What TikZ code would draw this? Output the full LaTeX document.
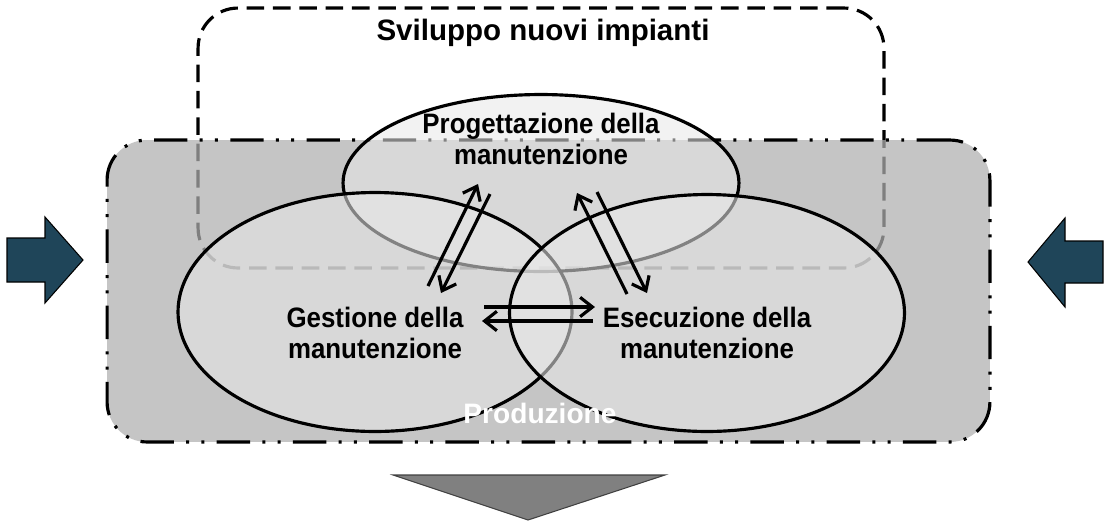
\documentclass[tikz,border=0pt]{standalone}
\usepackage{fontspec}
\setsansfont{Liberation Sans}
\newfontfamily\narrowsf[FakeStretch=0.92]{Liberation Sans}
\usetikzlibrary{arrows.meta,shapes.geometric}

\definecolor{boxgray}{RGB}{175,175,175}
\definecolor{lensgray}{RGB}{232,232,232}
\definecolor{pushblue}{RGB}{31,69,89}
\definecolor{outgray}{RGB}{128,128,128}

\begin{document}
\begin{tikzpicture}[x=0.02cm,y=-0.02cm,>={Straight Barb[length=7pt,width=11pt]},
  line width=1.8pt,
  area box/.style={rectangle,rounded corners=0.8cm,inner sep=0pt},
  lens/.style={ellipse,draw,fill=lensgray,fill opacity=0.56,inner sep=0pt},
  lens text/.style={font=\narrowsf\bfseries\fontsize{16}{18}\selectfont,align=center},
  push arrow/.style={fill=pushblue,draw=black,line width=0.6pt}]

  \useasboundingbox (0,0) rectangle (1106,522);

  % areas
  \node[area box,draw,dash pattern=on 10pt off 5pt,minimum width=13.72cm,minimum height=5.2cm] (dev) at (541,138) {};
  \node[area box,draw,fill=boxgray,fill opacity=0.73,
    dash pattern=on 19pt off 7pt on 1.7pt off 7pt on 1.7pt off 7pt,
    minimum width=17.66cm,minimum height=6.04cm] (prod) at (548.5,291) {};

  % the three activities
  \node[lens,minimum width=7.92cm,minimum height=3.54cm] (prog) at (541,183) {};
  \node[lens,minimum width=7.88cm,minimum height=4.78cm] (gest) at (375,312) {};
  \node[lens,minimum width=7.9cm,minimum height=4.74cm] (esec) at (707,313) {};

  \node[font=\sffamily\bfseries\fontsize{16.8}{18}\selectfont] (devtext) at (543,33) {Sviluppo nuovi impianti};
  \node[font=\sffamily\bfseries\fontsize{16}{18}\selectfont,text=white] (prodtext) at (540,413) {Produzione};
  \node[lens text] (progtext) at (541,139) {Progettazione della\\manutenzione};
  \node[lens text] (gesttext) at (375,333) {Gestione della\\manutenzione};
  \node[lens text] (esectext) at (707,333) {Esecuzione della\\manutenzione};

  % exchanges
  \coordinate (gp1) at (428,286);
  \coordinate (pg1) at (478,184);
  \coordinate (pg2) at (490,194);
  \coordinate (gp2) at (441,293);
  \coordinate (ep1) at (627,294);
  \coordinate (pe1) at (577,193);
  \coordinate (pe2) at (597,192);
  \coordinate (ep2) at (647,293);
  \coordinate (ge1) at (484,307);
  \coordinate (eg1) at (595,307);
  \coordinate (eg2) at (593,321);
  \coordinate (ge2) at (482,321);

  \path[->]
    (gp1) edge (pg1)
    (pg2) edge (gp2)
    (ep1) edge (pe1)
    (pe2) edge (ep2)
    (ge1) edge (eg1)
    (eg2) edge (ge2);

  % inputs and output
  \draw[push arrow] (7,238) -- (45,238) -- (45,217) -- (83,260) -- (45,303) -- (45,282) -- (7,282) -- cycle;
  \draw[push arrow] (1103,241) -- (1065,241) -- (1065,218) -- (1028,262) -- (1065,307) -- (1065,283) -- (1103,283) -- cycle;
  \draw[fill=outgray,draw=black!75,line width=0.6pt] (393,475) -- (665,475) -- (528,520) -- cycle;

\end{tikzpicture}
\end{document}
